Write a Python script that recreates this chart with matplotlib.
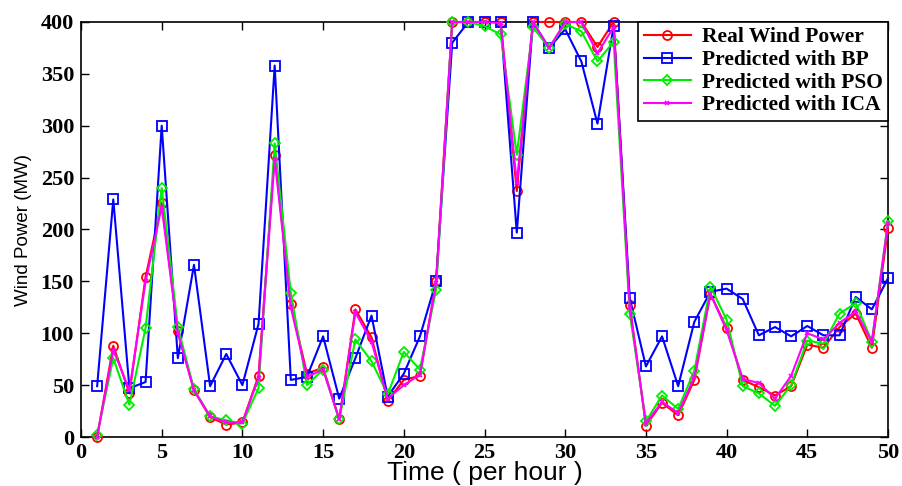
import matplotlib
matplotlib.use("Agg")
import matplotlib.pyplot as plt
import numpy as np

hours = list(range(1, 51))

real_power = [0, 88, 42, 154, 226, 102, 45, 19, 12, 14,
              59, 272, 128, 61, 67, 17, 123, 96, 35, 55,
              59, 150, 400, 400, 400, 400, 237, 400, 400, 400,
              400, 376, 400, 127, 11, 33, 21, 55, 138, 105,
              55, 48, 40, 49, 89, 86, 106, 119, 86, 201]

bp_power = [49, 229, 47, 53, 300, 76, 166, 49, 80, 50,
            109, 358, 55, 58, 97, 37, 76, 117, 39, 61,
            97, 150, 380, 400, 400, 400, 197, 400, 375, 393,
            362, 302, 396, 134, 68, 97, 49, 111, 140, 143,
            133, 98, 106, 97, 107, 98, 98, 135, 123, 153]

pso_power = [2, 76, 31, 105, 240, 106, 46, 20, 16, 13,
             47, 283, 139, 50, 65, 17, 94, 73, 41, 82,
             65, 142, 400, 400, 396, 388, 272, 395, 375, 398,
             391, 362, 381, 119, 15, 40, 27, 64, 145, 113,
             49, 42, 30, 50, 93, 90, 119, 129, 92, 208]

ica_power = [0, 84, 45, 150, 222, 100, 45, 20, 14, 14,
             57, 268, 125, 58, 65, 17, 120, 92, 37, 50,
             60, 148, 400, 400, 400, 399, 245, 400, 375, 400,
             400, 370, 395, 125, 13, 34, 23, 58, 138, 103,
             56, 52, 37, 59, 100, 94, 110, 121, 92, 206]

labels = ["Real Wind Power", "Predicted with BP",
          "Predicted with PSO", "Predicted with ICA"]

fig = plt.figure(figsize=(9.02, 4.86), dpi=100)
ax = fig.add_axes([81/902, 49/486, 807/902, 415/486])

ax.plot(hours, real_power, color="red", marker="o", mfc="none", ms=6.5,
        mew=1.3, lw=1.5, label=labels[0], clip_on=False, zorder=3)
ax.plot(hours, bp_power, color="blue", marker="s", mfc="none", ms=7,
        mew=1.3, lw=1.5, label=labels[1], clip_on=False, zorder=3)
ax.plot(hours, pso_power, color="#00ee00", marker="D", mfc="none", ms=5,
        mew=1.3, lw=1.5, label=labels[2], clip_on=False, zorder=3)
ax.plot(hours, ica_power, color="magenta", marker="x", ms=3,
        mew=1.2, lw=1.5, label=labels[3], clip_on=False, zorder=3)

ax.set_xlim(0, 50)
ax.set_ylim(0, 400)
ax.set_xticks(np.arange(0, 51, 5))
ax.set_yticks(np.arange(0, 401, 50))
ax.tick_params(direction="in", top=True, right=True, length=6, width=1)
ax.tick_params(axis="x", pad=4)
ax.tick_params(axis="y", pad=5)
for lab in ax.get_xticklabels() + ax.get_yticklabels():
    lab.set_fontfamily("Liberation Serif")
    lab.set_fontweight("bold")
    lab.set_fontsize(16)
for sp in ax.spines.values():
    sp.set_linewidth(1.2)

ax.set_xlabel("Time ( per hour )", family="Liberation Sans", fontsize=19)
ax.xaxis.set_label_coords(0.5, -0.087)
ax.xaxis.label.set_va("center")
ax.set_ylabel("Wind Power (MW)", family="Liberation Sans", fontsize=13.5, labelpad=6)

leg = ax.legend(loc="upper right", prop=dict(family="Liberation Serif", weight="bold", size=15.5),
                fancybox=False, framealpha=1, edgecolor="black", borderaxespad=0,
                handlelength=2.2, labelspacing=0.12, borderpad=0.25, handletextpad=0.5)
leg.get_frame().set_linewidth(1.2)
leg.set_zorder(5)

fig.savefig("out.png", dpi=100)
